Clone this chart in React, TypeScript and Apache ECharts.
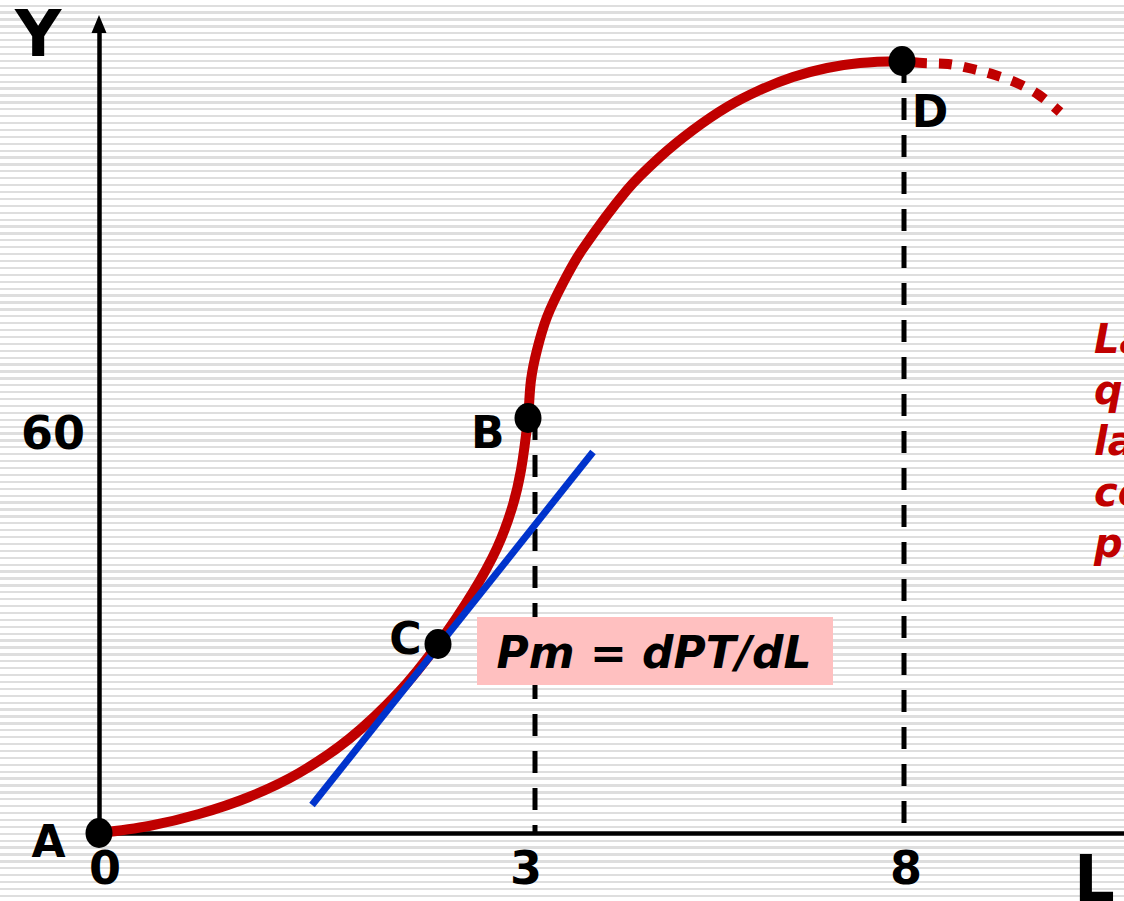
import { useEffect, useRef } from "react";
import * as echarts from "echarts";

// Total product curve PT(L), solid part from the origin A up to the maximum D (schematic axis units)
const curveL = [0, 0.5, 1.0, 1.5, 2.0, 2.5, 3.0, 3.39, 3.74, 3.98, 4.13, 4.22, 4.29, 4.32, 4.38, 4.48, 4.64, 4.83, 5.28, 5.61, 5.94, 6.28, 6.61, 6.94, 7.28, 7.61, 8.03];
const curveY = [0, 1.05, 2.85, 5.4, 9.0, 14.1, 21.15, 28.35, 36.15, 42.75, 48.75, 54.45, 62.25, 67.95, 72.45, 77.4, 82.5, 87.45, 96.45, 101.4, 105.45, 108.9, 111.45, 113.4, 114.75, 115.5, 115.8];

// Decreasing stretch after the maximum (dotted)
const fallL = [8.03, 8.24, 8.49, 8.74, 8.96, 9.18, 9.4, 9.61];
const fallY = [115.8, 115.5, 115.35, 114.6, 113.7, 112.5, 110.7, 108.15];

// Tangent to the curve at C
const tangentL = [2.13, 4.94];
const tangentY = [4.2, 57.15];

// Marked points
const pointNames = ["A", "B", "C", "D"];
const pointL = [0, 4.29, 3.39, 8.03];
const pointY = [0, 62.25, 28.35, 115.8];

// Vertical guides down to the L axis
const guideL = [4.36, 8.05];
const guideTop = [62.25, 115.8];

// Axis tick labels
const xTickPos = [0.06, 4.27, 8.07];
const xTickText = ["0", "3", "8"];
const yTickPos = [60];
const yTickText = ["60"];

const FONT = "'DejaVu Sans', Verdana, sans-serif";
const RED = "#c00000";

const labelPlacement: Record<string, any> = {
  A: { position: "left", distance: 20, offset: [0, 8] },
  B: { position: "left", distance: 10, offset: [0, 14] },
  C: { position: "left", distance: 3, offset: [0, -6] },
  D: { position: "bottom", distance: 13, offset: [28, 0] },
};

const ELLIPSE = "path://M0,1 A1,1 0 1,1 2,1 A1,1 0 1,1 0,1 Z";

function tickFormatter(pos: number[], text: string[]) {
  return (v: number) => {
    const i = pos.findIndex((p) => Math.abs(p - v) < 1e-6);
    return i >= 0 ? text[i] : "";
  };
}

export default function App() {
  const ref = useRef<HTMLDivElement>(null);

  useEffect(() => {
    if (!ref.current) return;
    const chart = echarts.init(ref.current, undefined, { renderer: "svg" });

    const axisLabelStyle = {
      fontSize: 46,
      fontWeight: "bold" as const,
      color: "#000",
      fontFamily: FONT,
    };

    const guides = guideL.map((l, i) => ({
      type: "line",
      data: [
        [l, guideTop[i]],
        [l, 0],
      ],
      symbol: "none",
      silent: true,
      lineStyle: { color: "#000", width: 5, type: [22, 15], cap: "butt" },
      z: 2,
    }));

    const option: any = {
      animation: false,
      backgroundColor: "transparent",
      grid: { left: 99, right: 0, top: 24, bottom: 68, containLabel: false },
      xAxis: {
        type: "value",
        min: 0,
        max: 10.25,
        splitLine: { show: false },
        axisTick: { show: false },
        axisLine: { show: true, onZero: false, lineStyle: { color: "#000", width: 4.5 } },
        axisLabel: {
          ...axisLabelStyle,
          customValues: xTickPos,
          formatter: tickFormatter(xTickPos, xTickText),
          margin: 12,
        },
      },
      yAxis: {
        type: "value",
        min: 0,
        max: 121.35,
        splitLine: { show: false },
        axisTick: { show: false },
        axisLine: {
          show: true,
          onZero: false,
          symbol: ["none", "triangle"],
          symbolSize: [15, 18],
          lineStyle: { color: "#000", width: 4.5 },
        },
        axisLabel: {
          ...axisLabelStyle,
          customValues: yTickPos,
          formatter: tickFormatter(yTickPos, yTickText),
          margin: 14,
        },
      },
      series: [
        ...guides,
        {
          type: "line",
          name: "PT",
          data: curveL.map((l, i) => [l, curveY[i]]),
          smooth: 0.33,
          symbol: "none",
          lineStyle: { color: RED, width: 10 },
          z: 3,
        },
        {
          type: "line",
          name: "PT decreciente",
          data: fallL.map((l, i) => [l, fallY[i]]),
          smooth: 0.33,
          symbol: "none",
          lineStyle: { color: RED, width: 10, type: [13, 12], dashOffset: 13, cap: "butt" },
          z: 3,
        },
        {
          type: "line",
          name: "Tangente",
          data: tangentL.map((l, i) => [l, tangentY[i]]),
          symbol: "none",
          lineStyle: { color: "#0033cc", width: 7 },
          z: 4,
        },
        {
          type: "scatter",
          data: pointNames.map((n, i) => ({
            name: n,
            value: [pointL[i], pointY[i]],
            label: {
              show: true,
              formatter: n,
              color: "#000",
              fontSize: 44,
              fontWeight: "bold",
              fontFamily: FONT,
              ...labelPlacement[n],
            },
          })),
          symbol: ELLIPSE,
          symbolSize: [27, 30],
          itemStyle: { color: "#000", opacity: 1 },
          z: 5,
        },
      ],
      graphic: [
        {
          type: "text",
          style: {
            text: "Y",
            x: 15,
            y: 34,
            font: `bold 64px ${FONT}`,
            lineHeight: 64,
            fill: "#000",
            textAlign: "left",
            align: "left",
            textVerticalAlign: "middle",
            verticalAlign: "middle",
          },
        },
        {
          type: "text",
          style: {
            text: "L",
            x: 1074,
            y: 879,
            font: `bold 64px ${FONT}`,
            lineHeight: 64,
            fill: "#000",
            textAlign: "left",
            align: "left",
            textVerticalAlign: "middle",
            verticalAlign: "middle",
          },
        },
        {
          type: "rect",
          shape: { x: 477, y: 617, width: 356, height: 68 },
          style: { fill: "#ffc0c0" },
          z: 10,
        },
        {
          type: "text",
          z: 11,
          style: {
            text: "Pm = dPT/dL",
            x: 654,
            y: 652,
            font: `italic bold 44px ${FONT}`,
            fill: "#000",
            textAlign: "center",
            align: "center",
            textVerticalAlign: "middle",
            verticalAlign: "middle",
          },
        },
        {
          type: "text",
          style: {
            text: "La pendiente\nque tiene\nla tangente\ncoincide con el\nproducto marginal",
            x: 1094,
            y: 313,
            font: `italic bold 40px ${FONT}`,
            lineHeight: 51,
            fill: RED,
            textAlign: "left",
            align: "left",
            textVerticalAlign: "top",
            verticalAlign: "top",
          },
        },
      ],
    };

    chart.setOption(option);
    return () => chart.dispose();
  }, []);

  return (
    <div
      ref={ref}
      style={{
        position: "fixed",
        left: 0,
        top: 0,
        width: 1124,
        height: 901,
        background:
          "repeating-linear-gradient(to bottom, #ffffff 0px, #ffffff 4.6px, #dedede 4.6px, #dedede 6.9px)",
      }}
    />
  );
}
